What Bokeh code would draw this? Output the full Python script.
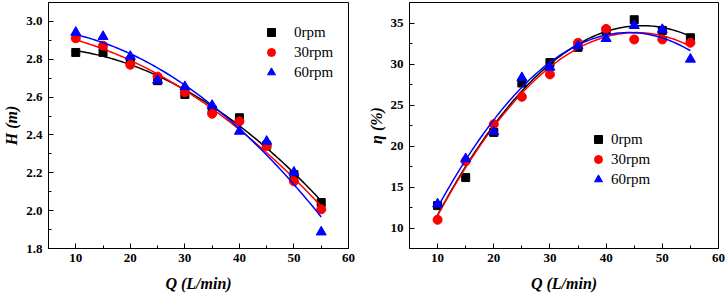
import numpy as np
from bokeh.plotting import figure
from bokeh.layouts import row
from bokeh.models import FixedTicker, PrintfTickFormatter, Range1d, Legend, LegendItem
from bokeh.embed import file_html
from bokeh.resources import INLINE

# ---- data ----
q = [10, 15, 20, 25, 30, 35, 40, 45, 50, 55]
series_names = ["0rpm", "30rpm", "60rpm"]
head_0 = [2.836, 2.836, 2.79, 2.687, 2.614, 2.533, 2.491, 2.345, 2.19, 2.043]
head_30 = [2.911, 2.872, 2.771, 2.708, 2.626, 2.512, 2.472, 2.342, 2.155, 2.007]
head_60 = [2.942, 2.920, 2.815, 2.689, 2.655, 2.556, 2.419, 2.366, 2.203, 1.887]
eff_0 = [12.73, 16.15, 21.66, 27.68, 30.18, 32.03, 34.04, 35.4, 34.1, 33.2]
eff_30 = [11.0, 18.16, 22.66, 26.0, 28.73, 32.59, 34.28, 32.99, 32.99, 32.59]
eff_60 = [12.93, 18.44, 21.74, 28.33, 29.6, 32.2, 33.1, 34.68, 34.2, 30.58]
x_ticks = [10, 20, 30, 40, 50, 60]
h_ticks = [1.8, 2.0, 2.2, 2.4, 2.6, 2.8, 3.0]
e_ticks = [10, 15, 20, 25, 30, 35]

colors = ["#000000", "#ff0000", "#0000ff"]
markers = ["square", "circle", "triangle"]
msizes = [8, 9, 10]
FONT = "Liberation Serif"


def style(p, xt, xminor, yt, yminor, yfmt=None):
    p.outline_line_color = "black"
    p.outline_line_width = 1
    p.xgrid.visible = False
    p.ygrid.visible = False
    for ax, t, mt in ((p.xaxis[0], xt, xminor), (p.yaxis[0], yt, yminor)):
        ax.ticker = FixedTicker(ticks=t, minor_ticks=mt)
        ax.major_tick_in = 5
        ax.major_tick_out = 0
        ax.minor_tick_in = 3
        ax.minor_tick_out = 0
        ax.axis_line_color = "black"
        ax.major_tick_line_color = "black"
        ax.minor_tick_line_color = "black"
        ax.major_label_text_font = FONT
        ax.major_label_text_font_style = "bold"
        ax.major_label_text_font_size = "13px"
        ax.major_label_text_color = "black"
        ax.axis_label_text_font = FONT
        ax.axis_label_text_font_style = "bold italic"
        ax.axis_label_text_font_size = "16px"
        ax.axis_label_text_color = "black"
        ax.major_label_standoff = 5
        ax.axis_label_standoff = 10
    p.yaxis[0].major_label_standoff = 6
    p.yaxis[0].axis_label_standoff = 3
    if yfmt:
        p.yaxis[0].formatter = PrintfTickFormatter(format=yfmt)


def make(ys, yr, yt, yminor, ylabel, yfmt, loc, standoff, borders):
    p = figure(width=363, height=298, output_backend="svg", toolbar_location=None,
               x_range=Range1d(5, 60), y_range=Range1d(*yr),
               min_border_left=borders[0], min_border_right=borders[1],
               min_border_top=borders[2], min_border_bottom=borders[3])
    p.xaxis.axis_label = "Q (L/min)"
    p.yaxis.axis_label = ylabel
    style(p, x_ticks, [15, 25, 35, 45, 55], yt, yminor, yfmt)
    xs = np.linspace(10, 55, 120)
    items = []
    for y, c, m, s, name in zip(ys, colors, markers, msizes, series_names):
        coef = np.polyfit(q, y, 2)
        p.line(xs, np.polyval(coef, xs), line_color=c, line_width=1.5)
        r = p.scatter(q, y, marker=m, size=s, fill_color=c, line_color=c)
        items.append(LegendItem(label=name, renderers=[r]))
    leg = Legend(items=items, location=loc, padding=0, margin=0, spacing=0,
                 glyph_width=20, glyph_height=20, label_height=20,
                 label_standoff=standoff, border_line_color=None,
                 background_fill_alpha=0,
                 label_text_font=FONT, label_text_font_size="15px",
                 label_text_color="black")
    p.add_layout(leg)
    return p


p1 = make([head_0, head_30, head_60], (1.8, 3.1), h_ticks, [1.9, 2.1, 2.3, 2.5, 2.7, 2.9],
          "H (m)", "%.1f", (213, 166), 13, (42, 15, 2, 50))
p2 = make([eff_0, eff_30, eff_60], (7.5, 37.5), e_ticks, [12.5, 17.5, 22.5, 27.5, 32.5],
          "η (%)", None, (179, 59), 3, (46, 8, 1, 47))

layout = row(p1, p2)
open("out.html", "w").write(file_html(layout, INLINE))
